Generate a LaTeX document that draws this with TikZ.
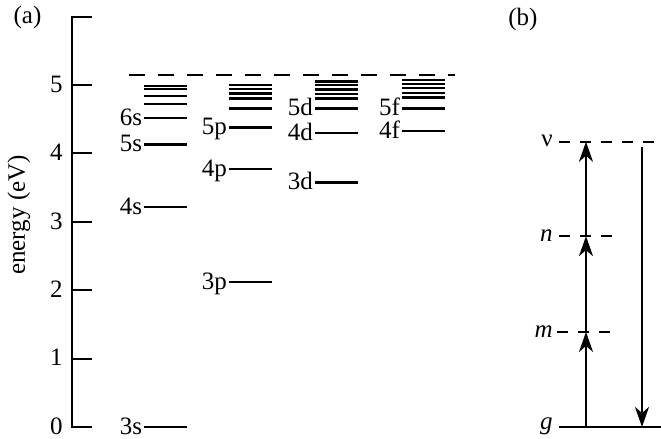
\documentclass[tikz,border=0pt]{standalone}
\usepackage{fontspec}
\setmainfont{Liberation Serif}
\usepackage{tikz}
\usetikzlibrary{arrows.meta}

\begin{document}
\begin{tikzpicture}[x=0.5pt,y=0.5pt,
  txt/.style={font=\fontsize{12.5}{14}\selectfont,inner sep=1pt},
  axisline/.style={line width=1pt},
  level/.style={line width=1.1pt},
  ionline/.style={line width=1.1pt,dash pattern=on 8pt off 6.5pt},
  lablev/.style={txt,anchor=base east,inner sep=0.8pt,yshift=-3.7pt},
  ticklab/.style={txt,anchor=base east,inner sep=0pt,yshift=-3.7pt},
  stateline/.style={line width=0.8pt,dash pattern=on 5.5pt off 5pt},
  statelab/.style={txt,anchor=base east,yshift=-2.6pt},
  uparr/.style={-{Stealth[length=10pt,width=7pt,inset=3pt]},line width=0.8pt},
  downarr/.style={-{Stealth[length=10pt,width=7pt,inset=3pt]},line width=0.8pt}]
\useasboundingbox (0,0) rectangle (661,439);
\begin{scope}[yshift=6pt,y=34.2pt]
% (a) energy axis
\node[txt] (pa) at (27.5,5.99) {(a)};
\draw[axisline] (92,6) -- (72,6) -- (72,0) -- (92,0);
\foreach \e in {1,...,5}
  \draw[axisline] (72,\e) -- (92,\e);
\foreach \e in {0,...,5}
  \node[ticklab] (tick-\e) at (63,\e) {\e};
\node[txt,rotate=90] (elab) at (19,3.1) {energy (eV)};
% ionization limit
\draw[ionline] (129,5.146) -- (455,5.146);
% s levels
\foreach \e/\t in {0/3s,3.214/4s,4.131/5s,4.520/6s}{
  \draw[level] (144,\e) -- (187,\e);
  \node[lablev] (lev-\t) at (144,\e) {\t};
}
\foreach \e in {4.723,4.840,4.937,4.981}
  \draw[level] (144,\e) -- (187,\e);
% p levels
\foreach \e/\t in {2.118/3p,3.777/4p,4.378/5p}{
  \draw[level] (229,\e) -- (272,\e);
  \node[lablev] (lev-\t) at (229,\e) {\t};
}
\foreach \e in {4.655,4.803,4.876,4.942,5.0}
  \draw[level] (229,\e) -- (272,\e);
% d levels
\foreach \e/\t in {3.574/3d,4.301/4d,4.655/5d}{
  \draw[level] (315,\e) -- (358,\e);
  \node[lablev] (lev-\t) at (315,\e) {\t};
}
\foreach \e in {4.803,4.869,4.934,5.0,5.051}
  \draw[level] (315,\e) -- (358,\e);
% f levels
\foreach \e/\t in {4.330/4f,4.655/5f}{
  \draw[level] (402,\e) -- (445,\e);
  \node[lablev] (lev-\t) at (402,\e) {\t};
}
\foreach \e in {4.818,4.884,4.956,5.015,5.073}
  \draw[level] (402,\e) -- (445,\e);

% (b) multiphoton scheme
\node[txt] (pb) at (523,5.96) {(b)};
\draw[axisline] (559,0) -- (661,0);
\draw[stateline] (557,1.39) -- (613,1.39);
\draw[stateline] (559,2.79) -- (613,2.79);
\draw[stateline] (559,4.17) -- (661,4.17);
\node[statelab,yshift=1.2pt] (lab-g) at (555,0) {\textit{g}};
\node[statelab] (lab-m) at (555,1.39) {\textit{m}};
\node[statelab] (lab-n) at (555,2.79) {\textit{n}};
\node[statelab] (lab-v) at (555,4.17) {ν};
\coordinate (up-g) at (586,0);
\coordinate (up-m) at (586,1.39);
\coordinate (up-n) at (586,2.79);
\coordinate (up-v) at (586,4.17);
\coordinate (dn-v) at (642,4.10);
\coordinate (dn-g) at (642,0);
\draw[uparr] (up-g) -- (up-m);
\draw[uparr] (up-m) -- (up-n);
\draw[uparr] (up-n) -- (up-v);
\draw[downarr] (dn-v) -- (dn-g);
\end{scope}
\end{tikzpicture}
\end{document}
